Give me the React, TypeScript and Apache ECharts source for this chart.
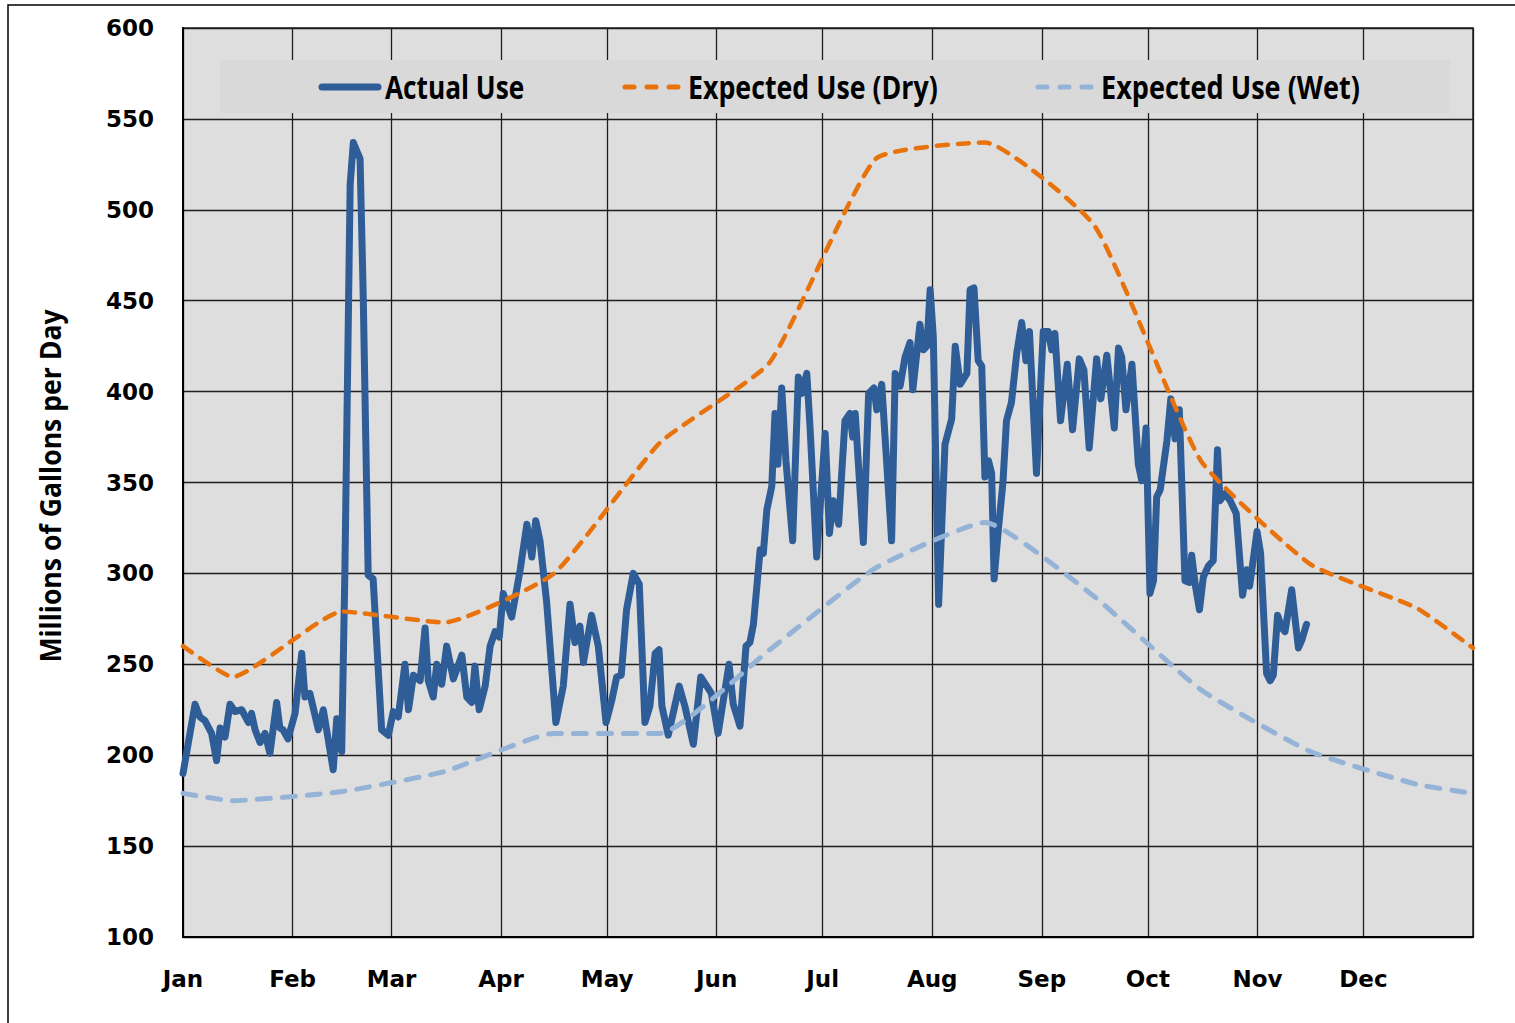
import React, { useEffect, useRef } from "react";
import * as echarts from "echarts";

const monthNames = ["Jan", "Feb", "Mar", "Apr", "May", "Jun", "Jul", "Aug", "Sep", "Oct", "Nov", "Dec"];
const monthStartDays = [0, 31, 59, 90, 120, 151, 181, 212, 243, 273, 304, 334, 365];

const yMin = 100;
const yMax = 600;
const yStep = 50;

const seriesNames = ["Actual Use", "Expected Use (Dry)", "Expected Use (Wet)"];
const yAxisTitle = "Millions of Gallons per Day";

// Actual daily use (day of year, MGD)
const actualDays = [
  0, 3.4, 4.8, 6.2, 8.1, 9.5, 10.5, 11.9, 13.3, 14.7, 16.6, 18.5, 19.4, 20.4, 21.8, 23.2, 24.6, 26.5, 27.4, 28.3, 29.7, 31.7, 33.6, 34.5,
  35.9, 38.3, 39.7, 42.5, 43.5, 44.9, 45.8, 47.3, 48.2, 50.1, 51, 52.4, 53.8, 56.2, 58.1, 59.5, 60.9, 62.8, 63.8, 65.2, 67.1, 68.5, 69.4, 70.8, 71.8, 73.2, 74.6,
  76.5, 78.9, 80.3, 81.7, 82.6, 83.8, 85.5, 86.9, 88.3, 89.5, 90.6, 93, 95.4, 97.3, 98.7, 99.8, 101, 102.9, 105.5, 107.6, 109.5, 110.9,
  112.3, 113.3, 115.6, 117.5, 119.7, 121.3, 122.7, 124, 125.5, 127.4, 129.1, 130.7, 132.1, 133.6, 134.7, 135.5, 137.3, 140.4, 142, 144.4, 146.5, 148.2, 149.5, 151.4,
  154.5, 155.7, 157.6, 159.3, 160.4, 161.4, 163.3, 164.2, 165.2, 166.6, 167.5, 168.3, 169.4, 170.6, 172.5, 174.1, 175.1, 176.5, 177.4, 179.3, 181.7, 182.9, 184, 185.5, 187.3, 188.7,
  189.5, 190.2, 192.5, 194, 195.5, 196.3, 197.7, 200.5, 201.5, 202.9, 204.3, 205.7, 206.5, 208.5, 209.5, 210.5, 211.4, 212.3, 213.8, 215.6, 217.5, 218.5, 219.9, 221.8, 222.7, 223.8, 225, 226, 226.9, 227.9, 228.8, 229.5, 230.7,
  232, 233, 234.4, 235.9, 237.3, 238.5, 239.5, 241.5, 243.4, 244.8, 245.8, 246.7, 248.3, 250.2, 251.7, 253.6, 254.9, 256.4, 258.5, 259.7, 261.4, 263.5, 264.7, 265.6, 266.8, 268.5,
  270.3, 271.3, 272.5, 273.6, 274.6, 275.5, 276.5, 278.4, 279.5, 280.7, 281.9, 283.5, 284.8, 285.4, 286.4, 287.6, 288.7, 290.1, 291.5, 292.7, 293.4, 294.9, 296.3, 298, 299.8, 301, 301.8, 303.9, 304.9,
  306.6, 307.6, 308.5, 309.7, 310.9, 311.8, 313.7, 315.6, 316.5, 317.9,
];
const actualUse = [
  190, 228, 221, 219, 212, 197, 215, 210, 228, 224, 225, 218, 223, 214, 207, 212, 201, 229, 215, 214, 209, 223, 256, 232,
  234, 214, 225, 192, 220, 202, 301, 514, 537, 528, 452, 299, 297, 214, 211, 224, 221, 250, 225, 244, 241, 270, 241, 232, 250, 239, 260,
  242, 255, 232, 229, 249, 225, 238, 260, 268, 265, 289, 276, 302, 327, 309, 329, 318, 284, 218, 238, 283, 262,
  271, 251, 277, 260, 218, 230, 243, 244, 280, 300, 294, 218, 227, 256, 258, 227, 211, 238, 227, 206, 243, 238, 234, 212,
  250, 228, 216, 260, 262, 272, 313, 311, 335, 348, 388, 360, 402, 362, 318, 408, 399, 410, 381, 309, 377, 322, 340, 327, 384, 388,
  375, 388, 317, 399, 402, 390, 404, 318, 410, 403, 419, 427, 401, 437, 423, 425, 456, 430, 283, 371, 385, 425, 404, 410, 456, 457, 417, 414, 353, 362, 355, 297, 324,
  350, 384, 394, 421, 438, 417, 433, 355, 433, 433, 423, 432, 384, 415, 379, 418, 412, 369, 418, 396, 420, 380, 424, 419, 390, 415,
  360, 351, 380, 289, 296, 342, 346, 373, 396, 374, 390, 296, 295, 310, 294, 280, 298, 304, 307, 368, 340, 344, 340, 333, 288, 302, 293, 323, 311,
  245, 241, 244, 277, 270, 268, 291, 259, 263, 272,
];

// Expected use, dry year
const dryDays = [0, 14, 45, 74, 105, 135, 166, 196, 227, 258, 288, 319, 349, 365];
const dryUse = [260, 243, 279, 273, 300, 372, 416, 528, 537, 491, 362, 305, 281, 259];

// Expected use, wet year
const wetDays = [0, 14, 45, 74, 105, 135, 166, 196, 227, 258, 288, 319, 349, 365];
const wetUse = [179, 175, 180, 191, 212, 212, 258, 303, 328, 287, 236, 202, 184, 179];

const colActual = "#2f5d97";
const colDry = "#e8720c";
const colWet = "#95b3d7";

const zip = (xs: number[], ys: number[]) => xs.map((x, i) => [x, ys[i]]);

export default function App() {
  const ref = useRef<HTMLDivElement>(null);
  useEffect(() => {
    if (!ref.current) return;
    const chart = echarts.init(ref.current, undefined, { renderer: "svg" });
    const tickFont = "'DejaVu Sans', Verdana, sans-serif";
    const narrow = "'Liberation Sans Narrow', 'Open Sans', sans-serif";
    const legendText = (text: string, x: number, sx: number) => ({
      type: "text",
      z: 101,
      x,
      y: 87,
      scaleX: sx,
      style: { text, fontFamily: narrow, fontWeight: "bold", fontSize: 32, fill: "#000", align: "left", verticalAlign: "middle" },
    });
    chart.setOption({
      animation: false,
      backgroundColor: "#ffffff",
      grid: {
        left: 183,
        right: 42,
        top: 28,
        bottom: 86,
        show: true,
        backgroundColor: "#dedede",
        borderColor: "#222222",
        borderWidth: 1.5,
      },
      xAxis: {
        type: "value",
        min: 0,
        max: 365,
        axisLine: { show: true, onZero: false, lineStyle: { color: "#000", width: 2 } },
        axisTick: { show: false, customValues: monthStartDays },
        splitLine: { show: true, lineStyle: { color: "#1e1e1e", width: 1.3 } },
        axisLabel: {
          customValues: monthStartDays.slice(0, 12),
          formatter: (v: number) => monthNames[monthStartDays.indexOf(v)] ?? "",
          color: "#000",
          fontFamily: tickFont,
          fontWeight: "bold",
          fontSize: 23,
          margin: 30,
        },
      },
      yAxis: {
        type: "value",
        min: yMin,
        max: yMax,
        interval: yStep,
        axisLine: { show: true, lineStyle: { color: "#000", width: 2 } },
        axisTick: { show: false },
        splitLine: { show: true, lineStyle: { color: "#1e1e1e", width: 1.3 } },
        axisLabel: {
          color: "#000",
          fontFamily: tickFont,
          fontWeight: "bold",
          fontSize: 23,
          margin: 29,
        },
      },
      series: [
        {
          name: seriesNames[0],
          type: "line",
          data: zip(actualDays, actualUse),
          showSymbol: false,
          symbol: "none",
          lineStyle: { color: colActual, width: 7, join: "round", cap: "round" },
          z: 3,
        },
        {
          name: seriesNames[1],
          type: "line",
          data: zip(dryDays, dryUse),
          showSymbol: false,
          symbol: "none",
          smooth: 0.15,
          lineStyle: { color: colDry, width: 4.5, type: [11, 10], cap: "round" },
          z: 4,
        },
        {
          name: seriesNames[2],
          type: "line",
          data: zip(wetDays, wetUse),
          showSymbol: false,
          symbol: "none",
          smooth: 0.15,
          lineStyle: { color: colWet, width: 5, type: [13, 12], cap: "round" },
          z: 4,
        },
      ],
      graphic: [
        {
          type: "polyline",
          z: 100,
          shape: { points: [[8, 1023], [8, 5], [1515, 5]] },
          style: { stroke: "#000", lineWidth: 1.5, fill: null },
        },
        {
          type: "text",
          z: 100,
          x: 50,
          y: 486,
          rotation: Math.PI / 2,
          scaleX: 0.95,
          style: {
            text: yAxisTitle,
            fontFamily: narrow,
            fontWeight: "bold",
            fontSize: 28,
            fill: "#000",
            align: "center",
            verticalAlign: "middle",
          },
        },
        {
          type: "rect",
          z: 100,
          shape: { x: 220, y: 60, width: 1230, height: 53 },
          style: { fill: "#d9d9d9" },
        },
        {
          type: "line",
          z: 101,
          shape: { x1: 322, y1: 87, x2: 378, y2: 87 },
          style: { stroke: colActual, lineWidth: 7, lineCap: "round" },
        },
        {
          type: "line",
          z: 101,
          shape: { x1: 625, y1: 87, x2: 678, y2: 87 },
          style: { stroke: colDry, lineWidth: 5, lineCap: "round", lineDash: [9, 13] },
        },
        {
          type: "line",
          z: 101,
          shape: { x1: 1038, y1: 87, x2: 1091, y2: 87 },
          style: { stroke: colWet, lineWidth: 5, lineCap: "round", lineDash: [9, 13] },
        },
        legendText(seriesNames[0], 385, 0.82),
        legendText(seriesNames[1], 688, 0.836),
        legendText(seriesNames[2], 1101, 0.846),
      ],
    });
    return () => chart.dispose();
  }, []);
  return <div ref={ref} style={{ position: "absolute", left: 0, top: 0, width: 1515, height: 1023 }} />;
}
